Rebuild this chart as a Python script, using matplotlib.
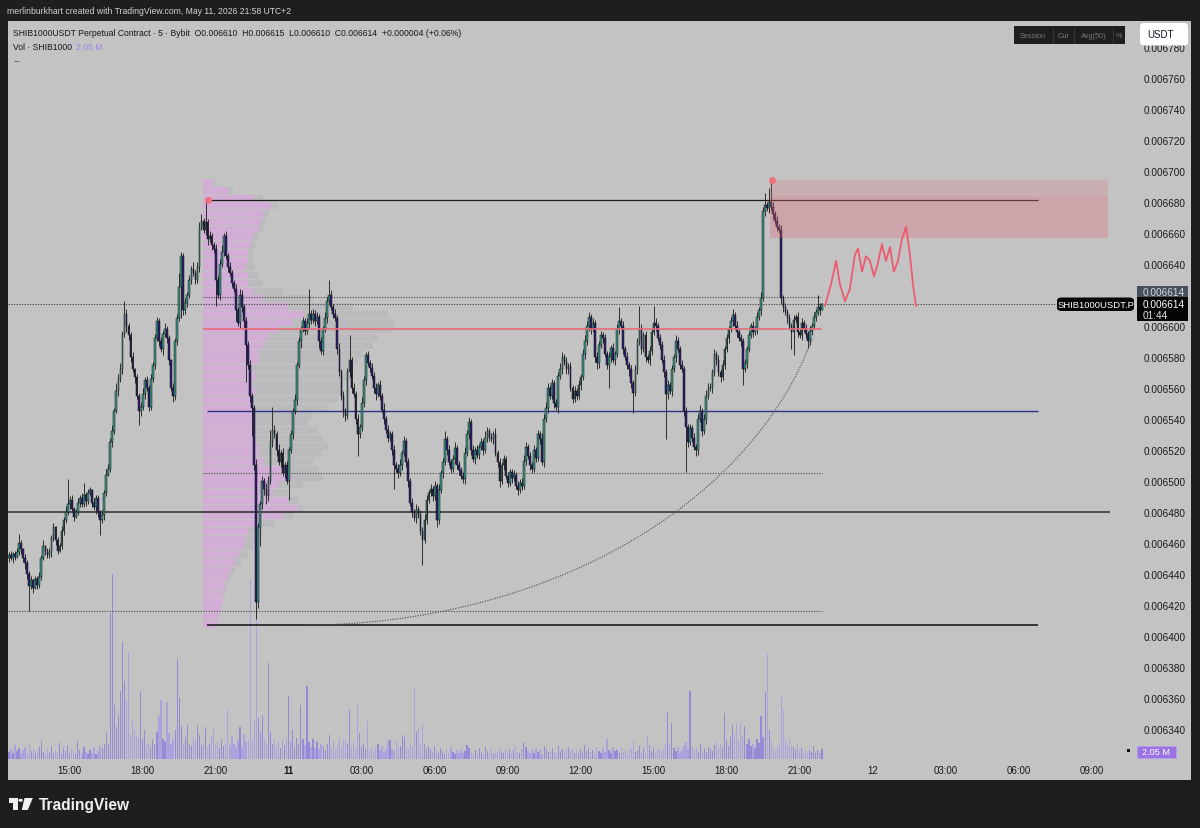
import numpy as np
import matplotlib
matplotlib.use("Agg")
import matplotlib.pyplot as plt
from matplotlib.patches import Rectangle, FancyBboxPatch, Circle, Polygon

plt.rcParams['font.family'] = ['Liberation Sans', 'DejaVu Sans']

# ---------------- data (prices in 1e-6 USDT, 5-minute candles from 10 May 12:30) ----------------
first_open = 6450
close_a = [6452,6450,6453,6451,6454,6460,6456,6450,6447,6440,6432,6436,6431,6437,6433,6438,6450,6458,
           6455,6452,6454,6463,6470,6462,6455,6458,6468,6475,6480,6485,6488,6482,6477,6480,6486,6489,
           6485,6491,6487,6492,6494,6486,6483,6489,6480,6475,6478,6492,6504,6508,6525,6532,6545,6558,
           6566,6572,6595,6608,6600,6594,6580,6572,6567,6555,6545,6548,6556,6565,6560]
close_b = [6548,6566,6575,6592,6603,6590,6585,6595,6598,6592,6578,6560,6555,6590,6605,6625,6645,6610,
           6615,6620,6630,6637,6634,6630,6638,6664,6668,6662,6667,6656,6658,6652,6650,6630,6620,6640,
           6648,6658,6645,6638,6634,6628,6624,6610,6602,6620,6612,6603,6588,6575,6555,6547,6510,6422,
           6470,6485,6500,6495,6490,6500,6525,6533,6530,6520,6512,6518,6505,6510,6500,6520]
close_c = [6530,6545,6552,6575,6590,6598,6603,6597,6602,6608,6604,6608,6603,6606,6590,6584,6598,6605,
           6616,6620,6612,6608,6605,6585,6570,6555,6545,6542,6570,6578,6560,6556,6540,6530,6535,6550,
           6565,6581,6576,6573,6568,6560,6556,6562,6555,6546,6540,6533,6528,6530,6520,6510,6508,6505,
           6510,6518,6526,6512,6500,6486,6480,6476,6482,6478,6468,6462,6475,6488,6492]
close_d = [6495,6490,6497,6475,6494,6505,6512,6527,6520,6512,6508,6514,6521,6510,6507,6503,6501,6518,
           6530,6538,6520,6514,6520,6517,6522,6525,6520,6528,6532,6528,6527,6530,6518,6512,6500,6510,
           6514,6503,6499,6506,6502,6504,6497,6494,6499,6497,6513,6522,6516,6510,6508,6520,6515,6530,
           6527,6512,6540,6547,6560,6555,6563,6550,6548,6568,6572,6580,6577,6572,6574]
close_e = [6560,6553,6558,6555,6562,6567,6582,6590,6600,6606,6598,6602,6580,6576,6588,6594,6592,6582,
           6575,6580,6586,6578,6582,6598,6603,6600,6585,6580,6575,6572,6563,6557,6572,6590,6598,6585,
           6594,6580,6578,6584,6596,6602,6600,6592,6588,6578,6570,6556,6562,6558,6572,6580,6590,6585,
           6575,6572,6545,6535,6525,6534,6528,6522,6520,6540,6545,6532,6540,6555,6560]
close_f = [6560,6570,6582,6578,6570,6567,6575,6585,6592,6598,6603,6607,6600,6596,6592,6590,6572,6576,
           6585,6594,6600,6596,6598,6606,6610,6618,6674,6678,6676,6680,6677,6672,6668,6664,6662,6618,
           6612,6609,6605,6600,6596,6604,6606,6596,6594,6602,6598,6595,6590,6597,6600,6606,6609,6612,
           6610,6614]

upper_a = [2,3,1,2,3,6,2,1,3,2, 2,3,1,2,2,3,2,4,1,2, 3,2,3,1,2,2,3,2,4,16, 2,3,1,2,3,2,3,8,2,3,
           2,1,3,2,2,1,3,2,4,3, 3,4,2,5,3,4,2,8,3,2, 2,3,1,2,2,3,4,2,3]
lower_a = [2,1,3,2,1,2,3,2,4,3, 16,2,3,1,3,2,2,1,3,2, 2,3,2,3,2,1,2,3,2,2, 3,2,3,1,2,3,2,2,3,2,
           1,3,2,4,3,10,2,3,2,1, 2,3,2,1,3,2,3,2,4,3, 3,2,4,2,9,3,2,3,2]
upper_b = [2,3,2,3,3,2,3,2,4,2, 2,1,3,2,3,9,3,2,3,2, 3,2,4,2,3,3,4,2,14,2, 3,2,2,3,2,3,4,2,3,2,
           3,2,2,3,2,4,3,2,3,2, 3,2,2,4,3,2,3,2,4,3, 8,15,3,2,4,2,3,2,3,2]
lower_b = [3,2,2,3,2,3,2,4,2,3, 3,2,4,3,2,2,20,3,2,3, 2,3,2,3,2,3,2,2,3,4, 2,3,3,17,2,3,2,3,2,3,
           2,3,2,7,2,3,3,4,24,3, 4,18,3,11,4,12,3,4,5,3, 2,3,2,4,2,3,2,3,2,12]
upper_c = [3,2,4,2,3,2,3,2,3,16, 2,3,2,3,2,3,2,4,3,10, 3,2,3,2,4,2,3,2,3,16, 2,3,2,3,2,4,3,2,3,2,
           3,2,3,2,3,2,4,2,3,2, 2,3,2,3,4,2,3,2,3,2, 3,2,3,2,3,2,4,3,2]
lower_c = [2,3,2,3,2,4,2,3,2,3, 3,2,3,2,4,2,3,2,3,2, 2,3,2,3,2,3,4,3,2,3, 3,2,3,14,2,3,2,3,2,3,
           2,3,4,2,3,2,3,2,3,2, 3,15,2,3,2,3,2,3,4,2, 3,2,3,2,3,16,2,3,2]
upper_d = [3,2,3,2,4,2,3,5,2,3, 2,3,4,2,3,2,3,4,3,3, 2,3,2,3,2,3,2,4,3,2, 3,2,4,2,3,2,3,2,3,2,
           2,3,2,3,2,3,4,3,2,3, 2,3,2,3,2,4,3,4,3,2, 3,2,3,2,4,3,2,3,2]
lower_d = [2,3,2,5,3,2,3,2,3,2, 3,2,3,2,3,2,2,3,2,3, 3,2,3,2,3,2,3,2,3,2, 2,3,2,3,4,2,3,2,3,2,
           3,2,2,3,2,3,2,3,2,3, 3,2,3,2,3,2,3,2,3,2, 2,3,2,4,2,3,2,3,3]
upper_e = [3,2,3,2,3,2,3,4,3,3, 2,3,2,3,2,3,2,3,2,3, 2,3,2,3,9,2,3,2,3,2, 3,2,3,2,15,3,2,3,2,3,
           2,11,3,2,3,2,3,2,3,2, 3,2,4,3,2,3,2,3,2,3, 2,3,2,3,4,2,3,4,3]
lower_e = [2,3,2,3,2,3,2,3,2,3, 3,2,3,4,3,2,3,2,3,15, 3,2,3,2,3,2,3,2,3,4, 3,13,2,3,2,3,2,3,2,3,
           3,2,3,2,3,2,3,29,3,2, 3,2,3,2,3,2,3,29,3,2, 3,2,4,3,2,3,2,3,2]
upper_f = [3,2,3,2,3,2,3,2,3,2, 3,4,2,3,2,3,2,3,2,3, 2,3,2,3,2,4,3,8,2,9, 14,3,2,3,2,3,2,3,2,3,
           2,3,2,3,2,3,2,3,2,3, 2,3,2,8,3,1]
lower_f = [2,3,2,3,2,3,2,3,2,3, 2,3,2,3,2,3,10,2,3,2, 2,3,2,3,2,3,2,3,2,3, 2,3,2,3,2,4,3,2,3,2,
           11,15,2,3,2,3,2,3,4,2, 3,2,3,2,3,0]

# volume in millions
vol_a = [1.5,2.0,1.2,2.8,1.6,2.2,1.0,1.8,2.5,1.3, 3.0,1.6,2.1,1.2,1.8,2.4,3.7,1.5,1.1,2.0,
         1.4,2.6,1.2,1.9,1.5,3.3,1.0,2.2,1.6,2.8, 1.3,2.0,1.6,1.1,3.7,1.8,1.2,2.5,1.4,1.0,
         1.9,1.3,2.4,1.1,1.7,2.6,2.2,3.0,5.3,3.0, 30,38,11,6.5,9,14,24,16,12,22, 5,8,6,5,4.5,14,4,6,3]
vol_b = [3.2,2.5,4.0,3.0,5.5,8.9,12,4.2,3.5,11.6, 5.3,3.0,4.1,6.0,20.5,12.5,6.8,3.2,4.5,7.0,
         3.1,2.6,4.4,3.8,7.0,5.0,2.8,3.3,6.5,2.4, 3.0,4.6,6.8,2.9,3.5,2.2,4.0,2.7,3.1,10.0,
         2.8,4.7,3.0,2.3,3.9,6.6,2.5,5.2,3.4,4.0, 37,4.2,8.0,48,8.5,5.5,9.0,4.0,3.2,19.7,
         5.5,3.0,4.1,2.6,3.5,2.2,3.8,2.9,4.4,13.0]
vol_c = [3.5,6.0,2.4,4.4,3.0,11.0,4.2,2.8,15.0,3.5, 2.5,4.0,2.2,3.4,2.0,3.1,2.6,1.8,3.0,5.0,
         2.2,3.6,1.9,2.8,4.5,2.4,4.0,4.2,3.0,10.0, 2.6,3.5,2.0,11.5,5.3,2.4,3.1,2.0,7.7,1.8,
         2.5,1.6,2.2,3.0,1.9,2.7,1.5,2.1,3.7,3.8, 2.0,1.6,3.6,2.3,2.6,5.0,4.6,2.4,2.0,3.2,
         2.6,14.8,5.8,6.4,2.9,7.4,3.0,2.0,2.7]
vol_d = [2.0,1.4,2.6,1.7,1.2,2.2,1.6,1.0,1.9,1.3, 2.4,1.5,1.1,1.8,1.3,2.0,1.2,1.7,2.8,2.3,
         1.4,1.0,1.8,1.2,2.3,1.5,1.1,2.5,1.6,1.3, 2.2,1.0,1.6,1.4,2.4,1.7,1.2,1.9,1.4,2.1,
         1.3,1.8,2.6,1.5,1.2,2.0,3.5,2.4,1.6,1.3, 1.9,1.2,2.2,1.5,1.8,1.1,2.6,2.0,1.4,1.7,
         2.3,1.5,1.2,2.7,1.6,2.0,1.3,1.8,2.5]
vol_e = [1.6,2.2,1.3,1.9,1.2,2.0,1.5,2.8,1.7,2.3, 1.4,1.9,1.1,2.4,1.6,1.3,2.2,1.5,4.0,1.8,
         1.2,2.4,1.6,1.9,1.3,2.2,1.5,1.8,1.1,2.0, 2.3,3.7,1.4,1.9,2.6,1.5,2.2,1.2,5.0,2.8,
         1.6,2.4,1.3,1.8,2.1,1.4,2.0,3.0,9.6,3.2, 7.4,2.2,1.6,2.5,1.3,1.9,2.7,3.4,2.0,14.0,
         2.6,1.8,2.3,1.5,3.0,1.7,2.2,1.4,2.5]
vol_f = [2.0,1.6,2.8,3.5,2.2,3.0,2.4,9.4,3.8,2.6, 4.5,7.0,5.2,7.3,3.6,7.4,4.8,6.8,3.0,4.2,
         2.7,3.1,2.2,4.0,3.3,8.8,4.5,13.7,21.5,6.0, 3.5,2.0,1.6,2.5,3.0,13.0,10.0,3.6,2.8,4.0,
         2.6,2.4,1.8,3.0,1.6,2.2,1.4,1.9,1.2,1.8, 1.5,2.6,1.3,1.8,1.2,2.05]

# session volume profile (rows of 5 units from 6405 upwards): total and up-volume, relative
profile_start = 6405
profile_total = [14,16,18,20,22,24,28,32,38,45, 50,55,60,72,90,100,95,85,100,120,
                 115,110,118,125,120,115,105,110,125,135, 140,140,150,145,155,160,170,175,190,192,
                 185,150,110,80,60,55,52,50,50,52, 55,60,62,66,75,60,30,12]
profile_up = [14,16,18,20,20,22,24,28,32,36, 40,42,45,55,80,95,85,70,75,90,
              80,60,55,55,50,50,48,50,50,50, 52,50,52,50,55,55,60,65,75,90,
              100,85,60,50,45,45,42,45,45,48, 50,55,58,60,68,50,25,10]

# horizontal levels (price units)
level_top = 6681
level_red = 6598
level_blue = 6545
level_dot_low = 6505
level_dot_high = 6619
level_full = 6480
level_dot_bottom = 6416
level_bottom = 6407
last_price = 6614
zone_low, zone_high, zone_mid = 6657, 6694, 6684

# hand-drawn projection (candle index, price units)
proj_idx = [402.5,405.5,408.0,409.9,412.4,414.8,417.3,418.8,420.8,422.7,424.7,426.7,428.7,430.6,
            432.6,434.6,436.5,438.5,440.5,442.5,444.4,445.9,447.4]
proj_price = [6613,6627,6642,6627,6616,6624,6646,6650,6635,6645,6642,6632,6641,6653,6642,6651,
              6635,6642,6656,6664,6646,6627,6613]

tick_idx = [30,66,102,138,174,210,246,282,318,354,390,426,462,498,534]
tick_text = ['15:00','18:00','21:00','11','03:00','06:00','09:00','12:00','15:00','18:00',
             '21:00','12','03:00','06:00','09:00']
price_ticks = [6340,6360,6380,6400,6420,6440,6460,6480,6500,6520,6540,6560,6580,6600,
               6640,6660,6680,6700,6720,6740,6760,6780]

# ---------------- assemble ----------------
closes_u = np.array(close_a + close_b + close_c + close_d + close_e + close_f, float)
upper_u = np.array(upper_a + upper_b + upper_c + upper_d + upper_e + upper_f, float)
lower_u = np.array(lower_a + lower_b + lower_c + lower_d + lower_e + lower_f, float)
vols = np.array(vol_a + vol_b + vol_c + vol_d + vol_e + vol_f, float)
n = min(len(closes_u), len(upper_u), len(lower_u), len(vols))
closes_u, upper_u, lower_u, vols = closes_u[:n], upper_u[:n], lower_u[:n], vols[:n]
opens_u = np.r_[first_open, closes_u[:-1]]
S = 1e-6
closes, opens = closes_u * S, opens_u * S
bhi = np.maximum(opens, closes); blo = np.minimum(opens, closes)
highs = bhi + upper_u * S; lows = blo - lower_u * S
up = closes >= opens
idx = np.arange(n)

W, H = 1200, 829
fig = plt.figure(figsize=(W / 100, H / 100), dpi=100, facecolor='#1e1e1e')

def fx(x): return x / W
def fy(y): return 1 - y / H

def fbox(x0, y0, x1, y1, fc, ec='none', z=10, lw=0.8, round_=False):
    if round_:
        p = FancyBboxPatch((fx(x0), fy(y1)), (x1 - x0) / W, (y1 - y0) / H,
                           boxstyle='round,pad=0,rounding_size=0.004', transform=fig.transFigure,
                           fc=fc, ec=ec, lw=lw, zorder=z)
    else:
        p = Rectangle((fx(x0), fy(y1)), (x1 - x0) / W, (y1 - y0) / H, transform=fig.transFigure,
                      fc=fc, ec=ec, lw=lw, zorder=z)
    fig.add_artist(p)

# grey panel
fbox(8, 22, 1191, 781, '#c3c3c3', z=-1)

rect = [fx(8), fy(760), (1110 - 8) / W, (760 - 22) / H]
vax = fig.add_axes(rect)
ax = fig.add_axes(rect)
for a in (ax, vax):
    a.set_facecolor('none')
    for s in a.spines.values():
        s.set_visible(False)
    a.set_xlim(-0.44, 543.1)
vax.set_zorder(1); ax.set_zorder(2)
vax.set_ylim(0, 151.3)
vax.set_xticks([]); vax.set_yticks([])
ax.set_ylim(6320.6 * S, 6796.8 * S)

# volume bars
vax.bar(idx, vols, width=0.62, color=np.where(up, '#978ad4', '#ada1de'), linewidth=0)

# volume profile
px_per_idx = 2.0275
prof_y = (profile_start + 2.5 + 5 * np.arange(len(profile_total))) * S
prof_left = 95.8
ax.barh(prof_y, np.array(profile_total) / px_per_idx, left=prof_left, height=4.6 * S,
        color='#b7b7bb', alpha=0.6, linewidth=0, zorder=1)
ax.barh(prof_y, np.array(profile_up) / px_per_idx, left=prof_left, height=4.6 * S,
        color='#d8aadd', alpha=0.8, linewidth=0, zorder=1.1)

# horizontal levels
ax.hlines(level_full * S, -0.44, 543.1, color='#2b2b2b', lw=1.1, zorder=3)
ax.hlines(level_top * S, 97.7, 507.6, color='#1c1c1c', lw=0.9, zorder=3)
ax.hlines(level_blue * S, 97.7, 507.6, color='#2e3488', lw=1.0, zorder=3)
ax.hlines(level_bottom * S, 97.7, 507.6, color='#2b2b2b', lw=1.3, zorder=3)
ax.hlines(level_dot_low * S, 95.8, 401, color='#444444', lw=0.8, linestyles=(0, (1, 1.4)), zorder=3)
ax.hlines(level_dot_high * S, 95.8, 401, color='#444444', lw=0.8, linestyles=(0, (1, 1.4)), zorder=3)
ax.hlines(level_dot_bottom * S, -0.44, 401, color='#444444', lw=0.8, linestyles=(0, (1, 1.4)), zorder=3)
ax.hlines(last_price * S, -0.44, 516.5, color='#3a3a3a', lw=0.8, linestyles=(0, (1, 1.4)), zorder=3)

# arc drawing
t = np.linspace(0, 1.31, 200)
arc_i = 145.1 + 259.9 * np.sin(t)
arc_p = (level_bottom + 249.4 * (1 - np.cos(t))) * S
ax.plot(arc_i, arc_p, color='#4a4a4a', lw=0.8, ls=(0, (1, 1.3)), zorder=3)

# candles
ax.vlines(idx, lows, highs, color='#2e2e2e', lw=0.7, zorder=4)
bh = np.maximum(bhi - blo, 0.9 * S)
ax.bar(idx, bh, bottom=blo, width=0.85, color=np.where(up, '#3b9585', '#2e1f6e'),
       edgecolor='#141414', linewidth=0.35, zorder=5)

# red level line (over candles)
ax.hlines(level_red * S, 95.8, 401, color='#e86c7a', lw=1.2, zorder=6)

# supply zone
ax.add_patch(Rectangle((375.4, zone_low * S), 542 - 375.4, (zone_high - zone_low) * S,
                       fc='#e46a78', alpha=0.22, ec='none', zorder=6))
ax.add_patch(Rectangle((375.4, zone_low * S), 542 - 375.4, (zone_mid - zone_low) * S,
                       fc='#e46a78', alpha=0.15, ec='none', zorder=6))
# anchor dots
ax.plot([98, 376.2], [level_top * S, zone_high * S], 'o', ms=5, color='#f0707e', mec='none', zorder=7)

# projection line
ax.plot(proj_idx, np.array(proj_price) * S, color='#ef5b6e', lw=1.3, zorder=7)

# axes ticks
ax.set_xticks(tick_idx)
ax.set_xticklabels(tick_text)
for lbl in ax.get_xticklabels():
    if lbl.get_text() == '11':
        lbl.set_fontweight('bold')
ax.tick_params(axis='x', length=0, pad=4.5, labelsize=7, labelcolor='#1a1a1a')
ax.yaxis.tick_right()
ax.set_yticks(np.array(price_ticks) * S)
ax.set_yticklabels(['%.6f' % (v * S) for v in price_ticks])
ax.tick_params(axis='y', length=0, pad=24.5, labelsize=7.2, labelcolor='#1a1a1a')

# ---------------- header & overlays ----------------
fig.text(fx(7), fy(12), 'merlinburkhart created with TradingView.com, May 11, 2026 21:58 UTC+2',
         color='#d1d4dc', fontsize=6.2, va='center', ha='left')
fig.text(fx(13), fy(34), 'SHIB1000USDT Perpetual Contract · 5 · Bybit  O0.006610  H0.006615  '
         'L0.006610  C0.006614  +0.000004 (+0.06%)', color='#131722', fontsize=6.2, va='center')
fig.text(fx(13), fy(47), 'Vol · SHIB1000', color='#131722', fontsize=6.2, va='center')
fig.text(fx(76), fy(47), '2.05 M', color='#a084e8', fontsize=6.2, va='center')
fig.text(fx(13), fy(59), '...', color='#131722', fontsize=6.2, va='center')

# top right toolbar
fbox(1014, 27, 1125, 45, '#1e1e1e', z=10)
for xs in (1053, 1074, 1113):
    fig.add_artist(plt.Line2D([fx(xs), fx(xs)], [fy(28), fy(44)], transform=fig.transFigure,
                              color='#3a3a3a', lw=0.6, zorder=11))
for txt, xc in (('Session', 1033), ('Cur', 1063.5), ('Avg(50)', 1093.5), ('%', 1119)):
    fig.text(fx(xc), fy(36.5), txt, color='#7a7a7a', fontsize=5.3, ha='center', va='center', zorder=12)
fbox(1140, 24, 1188, 46.5, '#ffffff', z=10, round_=True)
fig.text(fx(1147), fy(35), 'USDT', color='#131722', fontsize=7, ha='left', va='center', zorder=12)

# last price labels
fbox(1137, 287, 1188, 297.5, '#474e5c', z=10)
fig.text(fx(1143), fy(292.5), '0.006614', color='#d6d9e0', fontsize=7.2, va='center', zorder=12)
fbox(1137, 298, 1188, 322, '#050505', z=10)
fig.text(fx(1143), fy(304.5), '0.006614', color='#ffffff', fontsize=7.2, va='center', zorder=12)
fig.text(fx(1143), fy(316), '01:44', color='#e0e0e0', fontsize=7.2, va='center', zorder=12)
fbox(1057, 298.5, 1134, 312, '#050505', z=10, round_=True)
fig.text(fx(1095.5), fy(305.5), 'SHIB1000USDT.P', color='#ffffff', fontsize=6.8, ha='center',
         va='center', zorder=12)

# volume label
fbox(1127, 749.5, 1130, 752.5, '#111111', z=10)
fbox(1137, 746.5, 1176, 758.5, '#9a72e4', ec='#b99cf0', z=10, lw=0.6)
fig.text(fx(1156.5), fy(752.5), '2.05 M', color='#ffffff', fontsize=6.6, ha='center', va='center',
         zorder=12)

# logo
fbox(9.3, 799, 17.5, 803.5, '#f0f0f0', z=10)
fbox(13.3, 799, 17.5, 811, '#f0f0f0', z=10)
fig.add_artist(Circle((fx(20.6), fy(801.3)), 2.2 / W, transform=fig.transFigure, fc='#f0f0f0',
                      ec='none', zorder=10))
fig.add_artist(Polygon([(fx(24.5), fy(799)), (fx(32.8), fy(799)), (fx(27.8), fy(811)),
                        (fx(21.8), fy(811))], closed=True, transform=fig.transFigure,
                       fc='#f0f0f0', ec='none', zorder=10))
fig.text(fx(38.5), fy(805.5), 'TradingView', color='#f0f0f0', fontsize=11.2, fontweight='bold',
         ha='left', va='center')

fig.savefig('out.png', dpi=100, facecolor=fig.get_facecolor())
